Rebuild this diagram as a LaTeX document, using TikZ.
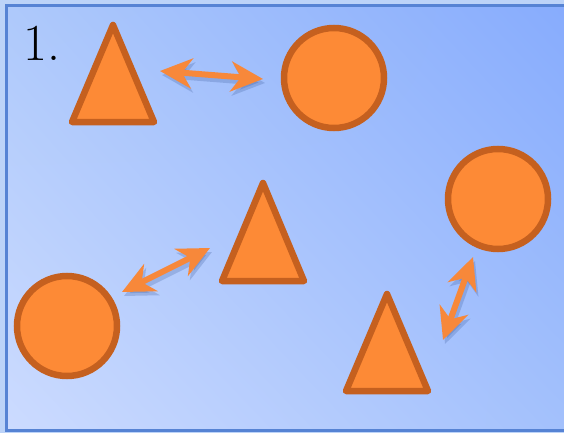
\documentclass[tikz,border=0pt]{standalone}
\usetikzlibrary{arrows.meta,shadings}
\definecolor{bgtl}{HTML}{AEC9FB}
\definecolor{bgtr}{HTML}{86ABFD}
\definecolor{bgbl}{HTML}{CCDBFF}
\definecolor{bgbr}{HTML}{A2C0FC}
\definecolor{framec}{HTML}{5683D4}
\definecolor{outerc}{HTML}{BCD3F8}
\definecolor{orfill}{HTML}{FD8A36}
\definecolor{oredge}{HTML}{C5601F}
\definecolor{arrowc}{HTML}{F7883A}
\definecolor{shadowc}{HTML}{3A5A9A}

\begin{document}
\begin{tikzpicture}[x=1pt, y=-1pt,
  ball/.style={circle, draw=oredge, fill=orfill, line width=6.5pt, minimum size=100pt, inner sep=0pt},
  tri/.style={draw=oredge, fill=orfill, line width=6.5pt, line join=round},
  link/.style={arrowc, line width=6pt, {Stealth[length=32pt,width=30pt,inset=10pt]}-{Stealth[length=32pt,width=30pt,inset=10pt]}},
  linkshadow/.style={link, shadowc, opacity=.25}]
\useasboundingbox (0,0) rectangle (564,433);
\fill[outerc] (0,0) rectangle (564,433);
\shade[upper left=bgtl, upper right=bgtr, lower left=bgbl, lower right=bgbr] (6,6) rectangle (580,430);
\draw[framec, line width=3pt] (6,6) rectangle (580,430);

\node[anchor=base west, inner sep=0pt, font=\fontsize{52}{52}\selectfont] (num) at (23,61) {1.};

% triangles
\draw[tri] (113,25) -- (154,122) -- (72,122) -- cycle;
\draw[tri] (263,183) -- (304,281) -- (222,281) -- cycle;
\draw[tri] (387,294) -- (428,391) -- (346,391) -- cycle;

% circles
\node[ball] (c1) at (334,78) {};
\node[ball] (c2) at (67,326) {};
\node[ball] (c3) at (498,199) {};

% arrow ends
\coordinate (a1) at (160,71);
\coordinate (b1) at (263,79);
\coordinate (a2) at (122,292);
\coordinate (b2) at (210,248);
\coordinate (a3) at (473,257);
\coordinate (b3) at (443,340);

\foreach \p/\q in {a1/b1, a2/b2, a3/b3} {
  \draw[linkshadow, transform canvas={shift={(2pt,-4pt)}}] (\p) -- (\q);
  \draw[link] (\p) -- (\q);
}
\end{tikzpicture}
\end{document}
